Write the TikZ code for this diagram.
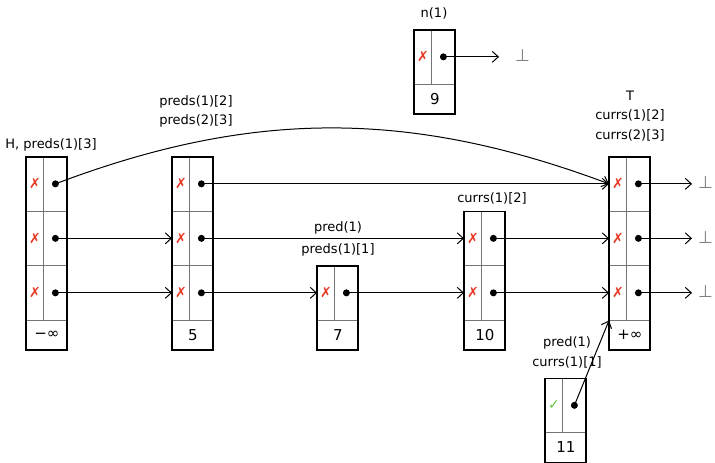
\documentclass[tikz,border=0pt]{standalone}
\usepackage{fontspec}
\setmainfont{DejaVu Sans}
\usepackage{tikz}
\usetikzlibrary{arrows.meta}

\definecolor{markred}{RGB}{230,55,35}
\definecolor{markgreen}{RGB}{95,200,65}
\definecolor{cellgray}{RGB}{115,115,120}

\newcommand{\xmark}{\textcolor{markred}{\fontsize{14}{14}\selectfont ✗}}
\newcommand{\cmark}{\textcolor{markgreen}{\fontsize{14}{14}\selectfont ✓}}

\tikzset{
  cell/.style={draw=cellgray, line width=0.8pt, inner sep=0, anchor=south west, minimum height=54.5},
  markcell/.style={cell, minimum width=17},
  ptrcell/.style={cell, minimum width=24},
  keycell/.style={draw=cellgray, line width=0.8pt, inner sep=0, anchor=south west, minimum width=41, minimum height=29.5, font=\fontsize{15}{15}\selectfont},
  lbl/.style={align=center, inner sep=0, font=\fontsize{13}{19.5}\selectfont},
  ptr/.style={-{Straight Barb[length=6pt,width=11pt]}, line width=1pt},
  bot/.style={text=gray, inner sep=0, anchor=west, font=\fontsize{17}{17}\selectfont},
}

% name, left x, bottom y, levels, key, mark
\newcommand{\tower}[6]{
  \node[keycell] (#1k) at (#2,#3) {#5};
  \foreach \lev in {1,...,#4}{
    \node[markcell] (#1m\lev) at (#2,{#3-29.5-(\lev-1)*54.5}) {#6};
    \node[ptrcell] (#1p\lev) at ({#2+17},{#3-29.5-(\lev-1)*54.5}) {};
    \fill (#1p\lev) circle (3.5);
  }
  \draw[line width=1.1pt] (#2,#3) rectangle ({#2+41},{#3-29.5-#4*54.5});
}

\begin{document}
\begin{tikzpicture}[x=1pt,y=-1pt]
\useasboundingbox (0,0) rectangle (715,463);

\tower{head}{26}{350}{3}{−∞}{\xmark}
\tower{n5}{172}{350}{3}{5}{\xmark}
\tower{n7}{317}{350}{1}{7}{\xmark}
\tower{n10}{464}{350}{2}{10}{\xmark}
\tower{tail}{609}{350}{3}{+∞}{\xmark}
\tower{n9}{414}{114}{1}{9}{\xmark}
\tower{n11}{545}{462.5}{1}{11}{\cmark}

\node[lbl] (lab9) at (434,13) {n(1)};
\node[lbl] (labhead) at (51,145) {H, preds(1)[3]};
\node[lbl] (lab5) at (196,111.5) {preds(1)[2]\\preds(2)[3]};
\node[lbl] (labtail) at (630,116) {T\\currs(1)[2]\\currs(2)[3]};
\node[lbl] (labpred) at (338,228) {pred(1)};
\node[lbl] (lab7) at (338,250) {preds(1)[1]};
\node[lbl] (lab10) at (492,198) {currs(1)[2]};
\node[lbl] (lab11) at (567,352.5) {pred(1)\\currs(1)[1]};

\node[bot] (bot9) at (515,56) {⊥};
\node[bot] (bot3) at (698,183) {⊥};
\node[bot] (bot2) at (698,238) {⊥};
\node[bot] (bot1) at (698,292) {⊥};

\draw[ptr] (headp3.center) .. controls +(198,-75) and +(-198,-74) .. (tailm3.west);
\draw[ptr] (headp2.center) -- (n5m2.west);
\draw[ptr] (headp1.center) -- (n5m1.west);
\draw[ptr] (n5p3.center) -- (tailm3.west);
\draw[ptr] (n5p2.center) -- (n10m2.west);
\draw[ptr] (n5p1.center) -- (n7m1.west);
\draw[ptr] (n7p1.center) -- (n10m1.west);
\draw[ptr] (n10p2.center) -- (tailm2.west);
\draw[ptr] (n10p1.center) -- (tailm1.west);
\draw[ptr, shorten >=6pt] (tailp3.center) -- (tailp3 -| bot3.west);
\draw[ptr, shorten >=6pt] (tailp2.center) -- (tailp2 -| bot2.west);
\draw[ptr, shorten >=6pt] (tailp1.center) -- (tailp1 -| bot1.west);
\draw[ptr, shorten >=16pt] (n9p1.center) -- (n9p1 -| bot9.west);
\draw[ptr] (n11p1.center) -- (tailm1.south west);
\end{tikzpicture}
\end{document}
